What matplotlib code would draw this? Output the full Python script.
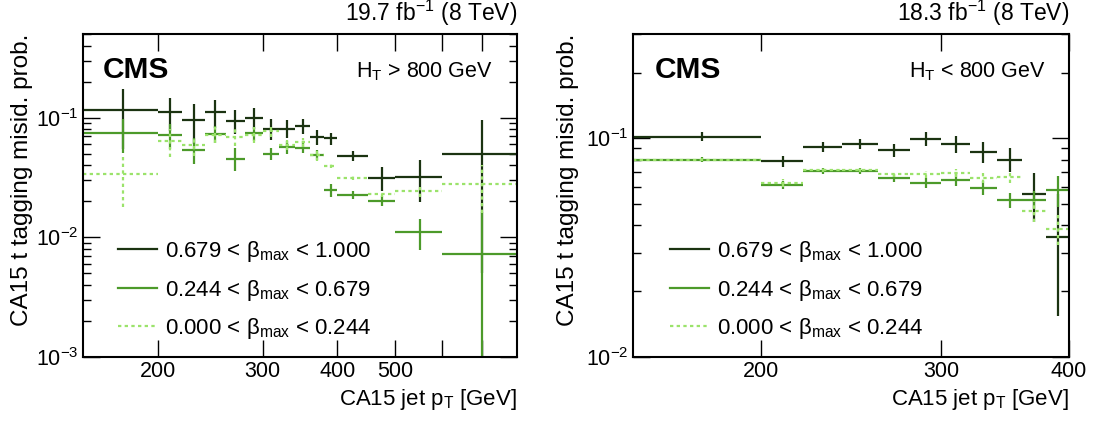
import matplotlib
matplotlib.use("Agg")
import matplotlib.pyplot as plt
from matplotlib.lines import Line2D
from matplotlib.ticker import LogLocator, NullLocator, NullFormatter, FixedLocator, FixedFormatter
import numpy as np

plt.rcParams["font.family"] = ["Liberation Sans", "DejaVu Sans"]
plt.rcParams["mathtext.fontset"] = "custom"
plt.rcParams["mathtext.rm"] = "Liberation Sans"
plt.rcParams["mathtext.it"] = "Liberation Sans:italic"
plt.rcParams["mathtext.bf"] = "Liberation Sans:bold"

# bin edges in jet pT [GeV]
edges_hi = [150, 200, 220, 240, 260, 280, 300, 320, 340, 360, 380, 400, 450, 500, 600, 800]
edges_lo = [150, 200, 220, 240, 260, 280, 300, 320, 340, 360, 380, 400]

# HT > 800 GeV
hi_dark = [0.115, 0.112, 0.095, 0.111, 0.094, 0.100, 0.081, 0.081, 0.085, 0.069, 0.067, 0.048, 0.0316, 0.0318, 0.050]
hi_dark_err = [0.060, 0.034, 0.035, 0.029, 0.021, 0.020, 0.016, 0.014, 0.012, 0.0095, 0.0075, 0.0045, 0.007, 0.0122, 0.045]
hi_mid = [0.074, 0.0716, 0.054, 0.073, 0.0455, 0.074, 0.050, 0.0565, 0.056, 0.049, 0.0249, 0.0226, 0.0202, 0.0111, 0.0073]
hi_mid_err = [0.023, 0.017, 0.013, 0.012, 0.010, 0.0097, 0.006, 0.0068, 0.0053, 0.005, 0.003, 0.0018, 0.002, 0.0032, 0.009]
hi_light = [0.034, 0.064, 0.059, 0.072, 0.069, 0.072, 0.0775, 0.059, 0.0625, 0.0484, 0.0397, 0.0314, 0.0231, 0.0243, 0.028]
hi_light_err = [0.016, 0.017, 0.011, 0.011, 0.011, 0.011, 0.009, 0.0057, 0.0057, 0.005, 0.0021, 0.0015, 0.0012, 0.0024, 0.012]

# HT < 800 GeV
lo_dark = [0.1018, 0.0786, 0.0913, 0.0946, 0.0882, 0.0993, 0.0942, 0.0866, 0.080, 0.0555, 0.0354]
lo_dark_err = [0.005, 0.0045, 0.0046, 0.005, 0.006, 0.0072, 0.0082, 0.0096, 0.0102, 0.014, 0.020]
lo_mid = [0.080, 0.061, 0.0708, 0.0708, 0.066, 0.0627, 0.0645, 0.0594, 0.0523, 0.0523, 0.0578]
lo_mid_err = [0.002, 0.0025, 0.002, 0.002, 0.0028, 0.0035, 0.004, 0.0043, 0.0042, 0.005, 0.0095]
lo_light = [0.080, 0.0627, 0.0713, 0.0713, 0.0684, 0.0684, 0.0696, 0.066, 0.0667, 0.0466, 0.0385]
lo_light_err = [0.0015, 0.0025, 0.0015, 0.0015, 0.002, 0.0025, 0.003, 0.0035, 0.004, 0.0052, 0.006]

labels = [r"0.679 < β$_{\mathregular{max}}$ < 1.000",
          r"0.244 < β$_{\mathregular{max}}$ < 0.679",
          r"0.000 < β$_{\mathregular{max}}$ < 0.244"]
colors = ["#1b3311", "#4c9a2a", "#9be36b"]
dots = (0, (1.5, 1.5))


def draw(ax, edges, series):
    e = np.array(edges, dtype=float)
    cen = 0.5 * (e[1:] + e[:-1])
    half = 0.5 * (e[1:] - e[:-1])
    for (vals, errs), col in zip(series, colors):
        eb = ax.errorbar(cen, vals, xerr=half, yerr=errs, fmt="none", ecolor=col, elinewidth=1.6, capsize=0)
        if col == colors[2]:
            for c in eb[2]:
                c.set_linestyle(dots)


fig = plt.figure(figsize=(10.96, 4.21), dpi=100)
ax1 = fig.add_axes([83 / 1096, 1 - 357 / 421, 434 / 1096, 323 / 421])
ax2 = fig.add_axes([633 / 1096, 1 - 357 / 421, 436 / 1096, 323 / 421])

draw(ax1, edges_hi, [(hi_dark, hi_dark_err), (hi_mid, hi_mid_err), (hi_light, hi_light_err)])
draw(ax2, edges_lo, [(lo_dark, lo_dark_err), (lo_mid, lo_mid_err), (lo_light, lo_light_err)])

for ax in (ax1, ax2):
    ax.set_xscale("log")
    ax.set_yscale("log")
    ax.tick_params(which="both", direction="in", top=True, right=True, labelsize=15.5, width=1)
    ax.tick_params(which="major", length=12)
    ax.tick_params(which="minor", length=6)
    ax.tick_params(axis="x", which="major", pad=3)
    ax.tick_params(axis="y", which="major", pad=3.5)
    ax.xaxis.set_minor_locator(NullLocator())
    ax.yaxis.set_major_locator(LogLocator(base=10))
    ax.yaxis.set_minor_locator(LogLocator(base=10, subs=np.arange(2, 10)))
    ax.yaxis.set_minor_formatter(NullFormatter())
    for s in ax.spines.values():
        s.set_linewidth(1.5)

ax1.set_xlim(150, 800)
ax1.set_ylim(1e-3, 0.5)
ax1.xaxis.set_major_locator(FixedLocator([200, 300, 400, 500, 600, 700]))
ax1.xaxis.set_major_formatter(FixedFormatter(["200", "300", "400", "500", "", ""]))

ax2.set_xlim(150, 400)
ax2.set_ylim(1e-2, 0.3)
ax2.xaxis.set_major_locator(FixedLocator([200, 300, 400]))
ax2.xaxis.set_major_formatter(FixedFormatter(["200", "300", "400"]))

for ax, lumi, ht, cms_x, ht_x, ylx, leg_x in [
        (ax1, r"19.7 fb$^{-1}$ (8 TeV)", r"H$_{\mathregular{T}}$ > 800 GeV", 0.046, 0.945, -0.14, 0.081),
        (ax2, r"18.3 fb$^{-1}$ (8 TeV)", r"H$_{\mathregular{T}}$ < 800 GeV", 0.05, 0.947, -0.149, 0.085)]:
    ax.text(cms_x, 0.864, "CMS", transform=ax.transAxes, fontsize=21.5, fontweight="bold", va="baseline", ha="left")
    ax.text(ht_x, 0.867, ht, transform=ax.transAxes, fontsize=15.5, va="baseline", ha="right")
    ax.text(1.0, 1.04, lumi, transform=ax.transAxes, fontsize=16.5, va="baseline", ha="right")
    ax.text(1.0, -0.15, r"CA15 jet p$_{\mathregular{T}}$ [GeV]", transform=ax.transAxes, fontsize=16, va="baseline", ha="right")
    ax.text(ylx, 1.0, "CA15 t tagging misid. prob.", transform=ax.transAxes, fontsize=17.5, rotation=90, va="top", ha="center")
    handles = [Line2D([], [], color=colors[0], lw=1.6),
               Line2D([], [], color=colors[1], lw=1.6),
               Line2D([], [], color=colors[2], lw=1.6, ls=dots)]
    ax.legend(handles, labels, loc="lower left", bbox_to_anchor=(leg_x, 0.05), frameon=False, fontsize=16,
              handlelength=1.75, handletextpad=0.35, labelspacing=0.6, borderpad=0, borderaxespad=0)

fig.savefig("out.png", dpi=100)
